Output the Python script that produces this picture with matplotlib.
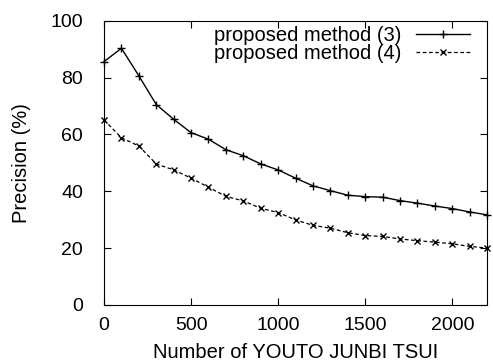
import matplotlib
matplotlib.use("Agg")
import matplotlib.pyplot as plt

plt.rcParams["font.family"] = ["Liberation Sans", "DejaVu Sans"]

# Data
x_vals = [0, 100, 200, 300, 400, 500, 600, 700, 800, 900, 1000, 1100,
          1200, 1300, 1400, 1500, 1600, 1700, 1800, 1900, 2000, 2100, 2200]
method3 = [85.6, 90.3, 80.6, 70.5, 65.3, 60.6, 58.3, 54.6, 52.5, 49.6, 47.5, 44.6,
           41.9, 40.2, 38.6, 38.1, 37.9, 36.7, 35.8, 34.8, 33.9, 32.7, 31.7]
method4 = [65.1, 58.8, 55.9, 49.6, 47.5, 44.6, 41.4, 38.2, 36.6, 34.0, 32.5, 29.9,
           28.0, 27.0, 25.4, 24.4, 24.1, 23.2, 22.6, 22.1, 21.5, 20.6, 20.0]
labels = ["proposed method (3)", "proposed method (4)"]
x_ticks = [0, 500, 1000, 1500, 2000]
y_ticks = [0, 20, 40, 60, 80, 100]

fig = plt.figure(figsize=(4.93, 3.63), dpi=100)
ax = fig.add_axes([0.211, 0.160, 0.777, 0.783])

ax.plot(x_vals, method3, color="black", lw=1.0, marker="+", ms=6, mew=1.0,
        label=labels[0], clip_on=False)
ax.plot(x_vals, method4, color="black", lw=0.9, ls=(0, (3, 2)), marker="x", ms=5,
        mew=1.0, label=labels[1], clip_on=False)

ax.set_xlim(0, 2200)
ax.set_ylim(0, 100)
ax.set_xticks(x_ticks)
ax.set_yticks(y_ticks)
ax.tick_params(direction="in", top=True, right=True, length=5, width=0.8,
               labelsize=14)
ax.tick_params(axis="x", pad=9)
ax.tick_params(axis="y", pad=15)
ax.set_xlabel("Number of YOUTO JUNBI TSUI", fontsize=14.5, labelpad=6)
ax.set_ylabel("Precision (%)", fontsize=14.5, labelpad=14)

ax.legend(loc="upper right", frameon=False, markerfirst=False, numpoints=1,
          fontsize=14.5, handlelength=2.7, handletextpad=0.7, labelspacing=-0.05,
          borderpad=0, borderaxespad=0,
          bbox_to_anchor=(470 / 493, 1 - 26 / 363), bbox_transform=fig.transFigure)

fig.savefig("out.png", dpi=100)
